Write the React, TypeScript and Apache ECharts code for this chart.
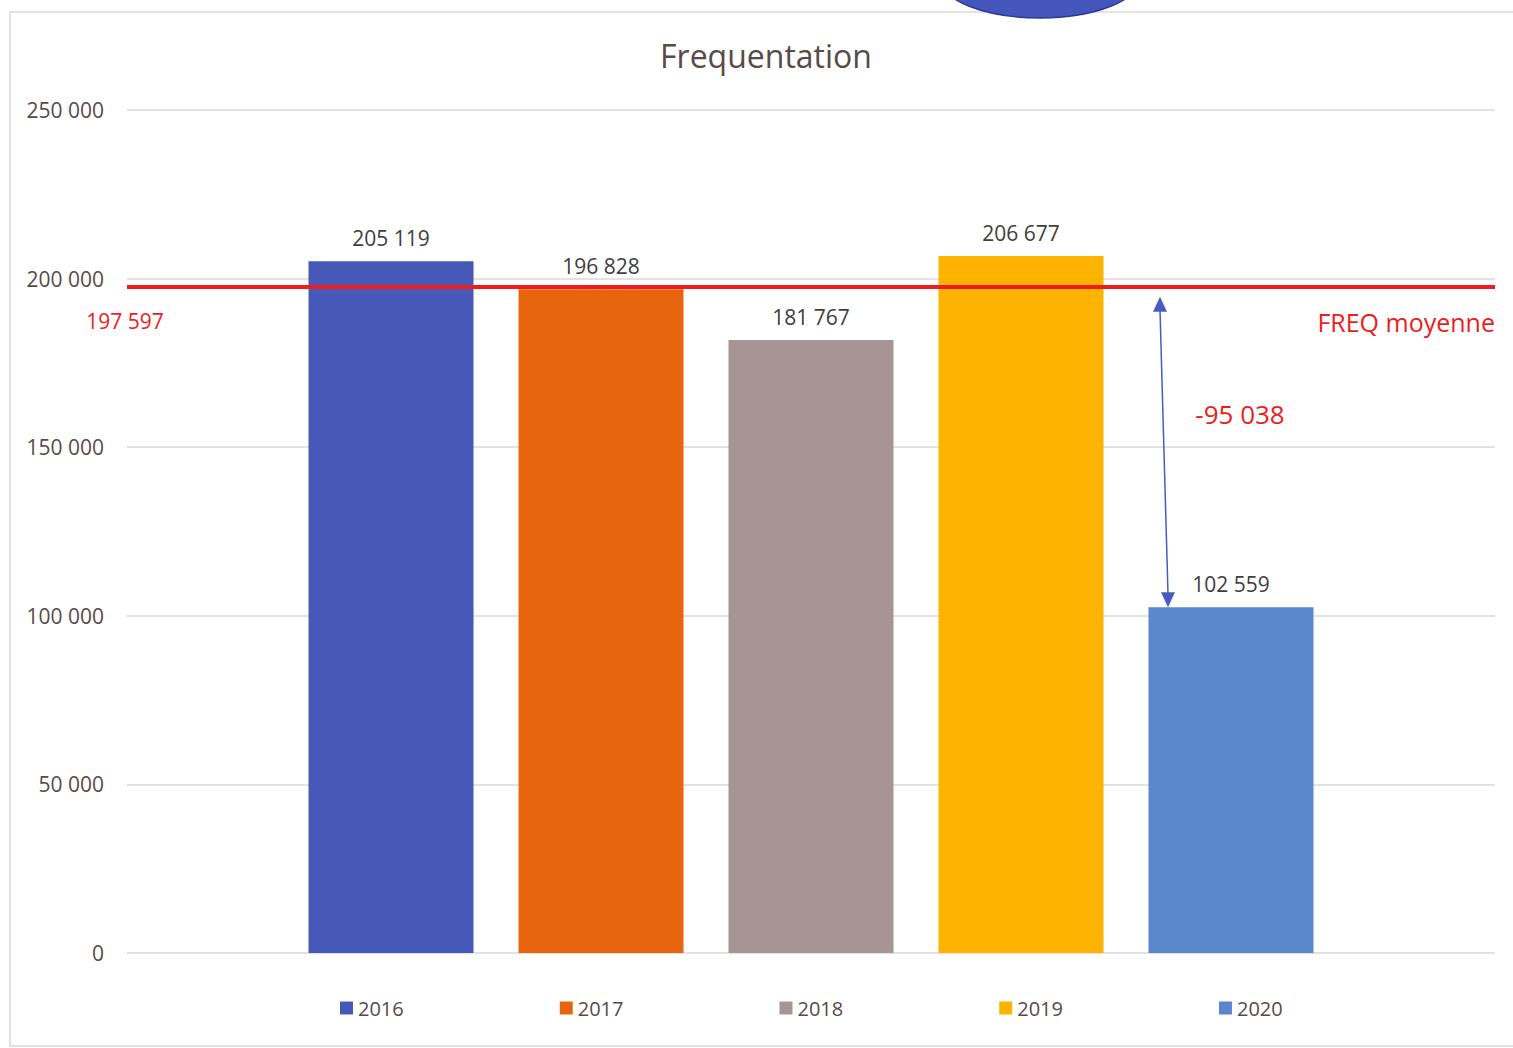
import React, { useEffect, useRef } from "react";
import * as echarts from "echarts";

const years = ["2016", "2017", "2018", "2019", "2020"];
const visitors = [205119, 196828, 181767, 206677, 102559];
const colors = ["#4659b9", "#e8650f", "#a79494", "#fdb300", "#5a87cc"];
const average = 197597;
const yTicks = { min: 0, max: 250000, interval: 50000 };

const fmt = (v: number) => {
  const s = Math.abs(Math.round(v)).toString().replace(/\B(?=(\d{3})+(?!\d))/g, " ");
  return (v < 0 ? "-" : "") + s;
};

const FONT = "'Open Sans', 'Noto Sans', sans-serif";
const TEXT = "#584a4a";
const RED = "#ee1c1c";
const ARROW = "#4a5bbf";

export default function App() {
  const ref = useRef<HTMLDivElement>(null);
  useEffect(() => {
    if (!ref.current) return;
    const chart = echarts.init(ref.current, undefined, { renderer: "svg" });
    const series: any[] = years.map((y, i) => ({
      type: "bar",
      name: y,
      data: [visitors[i]],
      barWidth: 165,
      barGap: "27.27%",
      itemStyle: { color: colors[i] },
      label: {
        show: true,
        position: "top",
        distance: 13,
        formatter: (p: any) => fmt(p.value),
        color: "#404040",
        fontSize: 21,
        fontFamily: FONT,
      },
      z: 2,
    }));
    series[0].markLine = {
      silent: true,
      symbol: "none",
      data: [{ yAxis: average }],
      lineStyle: { color: RED, width: 4, type: "solid" },
      label: { show: false },
      z: 5,
    };
    chart.setOption({
      animation: false,
      backgroundColor: "#ffffff",
      textStyle: { fontFamily: FONT },
      title: {
        text: "Frequentation",
        left: 761,
        textAlign: "center",
        top: 34,
        textStyle: { fontSize: 32, fontWeight: "normal", color: TEXT, fontFamily: FONT },
      },
      legend: {
        data: years,
        left: 335,
        top: 993,
        icon: "rect",
        itemWidth: 13,
        itemHeight: 13,
        itemGap: 156,
        textStyle: { fontSize: 20, color: TEXT, fontFamily: FONT },
      },
      grid: { left: 127, right: 18, top: 110, bottom: 95, containLabel: false },
      xAxis: {
        type: "category",
        data: [""],
        axisLine: { show: false },
        axisTick: { show: false },
        axisLabel: { show: false },
      },
      yAxis: {
        type: "value",
        min: yTicks.min,
        max: yTicks.max,
        interval: yTicks.interval,
        axisLine: { show: false },
        axisTick: { show: false },
        splitLine: { lineStyle: { color: "#d9d9d9", width: 1.5 } },
        axisLabel: {
          formatter: (v: number) => fmt(v),
          fontSize: 21,
          color: TEXT,
          margin: 23,
          fontFamily: FONT,
        },
      },
      series,
    });

    const yAvg = chart.convertToPixel({ yAxisIndex: 0 }, average) as number;
    const yLast = chart.convertToPixel({ yAxisIndex: 0 }, visitors[visitors.length - 1]) as number;
    const xTop = 1160;
    const xBot = 1168;
    const yTop = yAvg + 10;
    const yBot = yLast;
    const head = 15;
    const diff = visitors[visitors.length - 1] - average;

    chart.setOption({
      graphic: [
        {
          type: "rect",
          shape: { x: 10, y: 12, width: 1520, height: 1034 },
          style: { fill: "none", stroke: "#d9d9d9", lineWidth: 1.5 },
          z: 0,
          silent: true,
        },
        {
          type: "ellipse",
          shape: { cx: 1040, cy: -22, rx: 100, ry: 40 },
          style: { fill: "#4456bb", stroke: "#2c3b98", lineWidth: 1.5 },
          z: 20,
        },
        {
          type: "line",
          shape: { x1: xTop, y1: yTop + head - 2, x2: xBot, y2: yBot - head + 2 },
          style: { stroke: ARROW, lineWidth: 1.5 },
          z: 20,
        },
        {
          type: "polygon",
          shape: { points: [[xTop, yTop], [xTop - 7, yTop + head], [xTop + 7, yTop + head]] },
          style: { fill: ARROW },
          z: 20,
        },
        {
          type: "polygon",
          shape: { points: [[xBot, yBot], [xBot - 7, yBot - head], [xBot + 7, yBot - head]] },
          style: { fill: ARROW },
          z: 20,
        },
        {
          type: "text",
          x: 125,
          y: yAvg + 34,
          style: {
            text: fmt(average),
            fill: RED,
            font: `21px ${FONT}`,
            align: "center",
            verticalAlign: "middle",
          },
          z: 20,
        },
        {
          type: "text",
          x: 1495,
          y: yAvg + 35,
          style: {
            text: "FREQ moyenne",
            fill: RED,
            font: `25px ${FONT}`,
            align: "right",
            verticalAlign: "middle",
          },
          z: 20,
        },
        {
          type: "text",
          x: 1240,
          y: (yAvg + yLast) / 2 - 33,
          style: {
            text: fmt(diff),
            fill: RED,
            font: `26px ${FONT}`,
            align: "center",
            verticalAlign: "middle",
          },
          z: 20,
        },
      ],
    });

    return () => chart.dispose();
  }, []);
  return (
    <div
      ref={ref}
      style={{ position: "absolute", left: 0, top: 0, width: 1513, height: 1048 }}
    />
  );
}
